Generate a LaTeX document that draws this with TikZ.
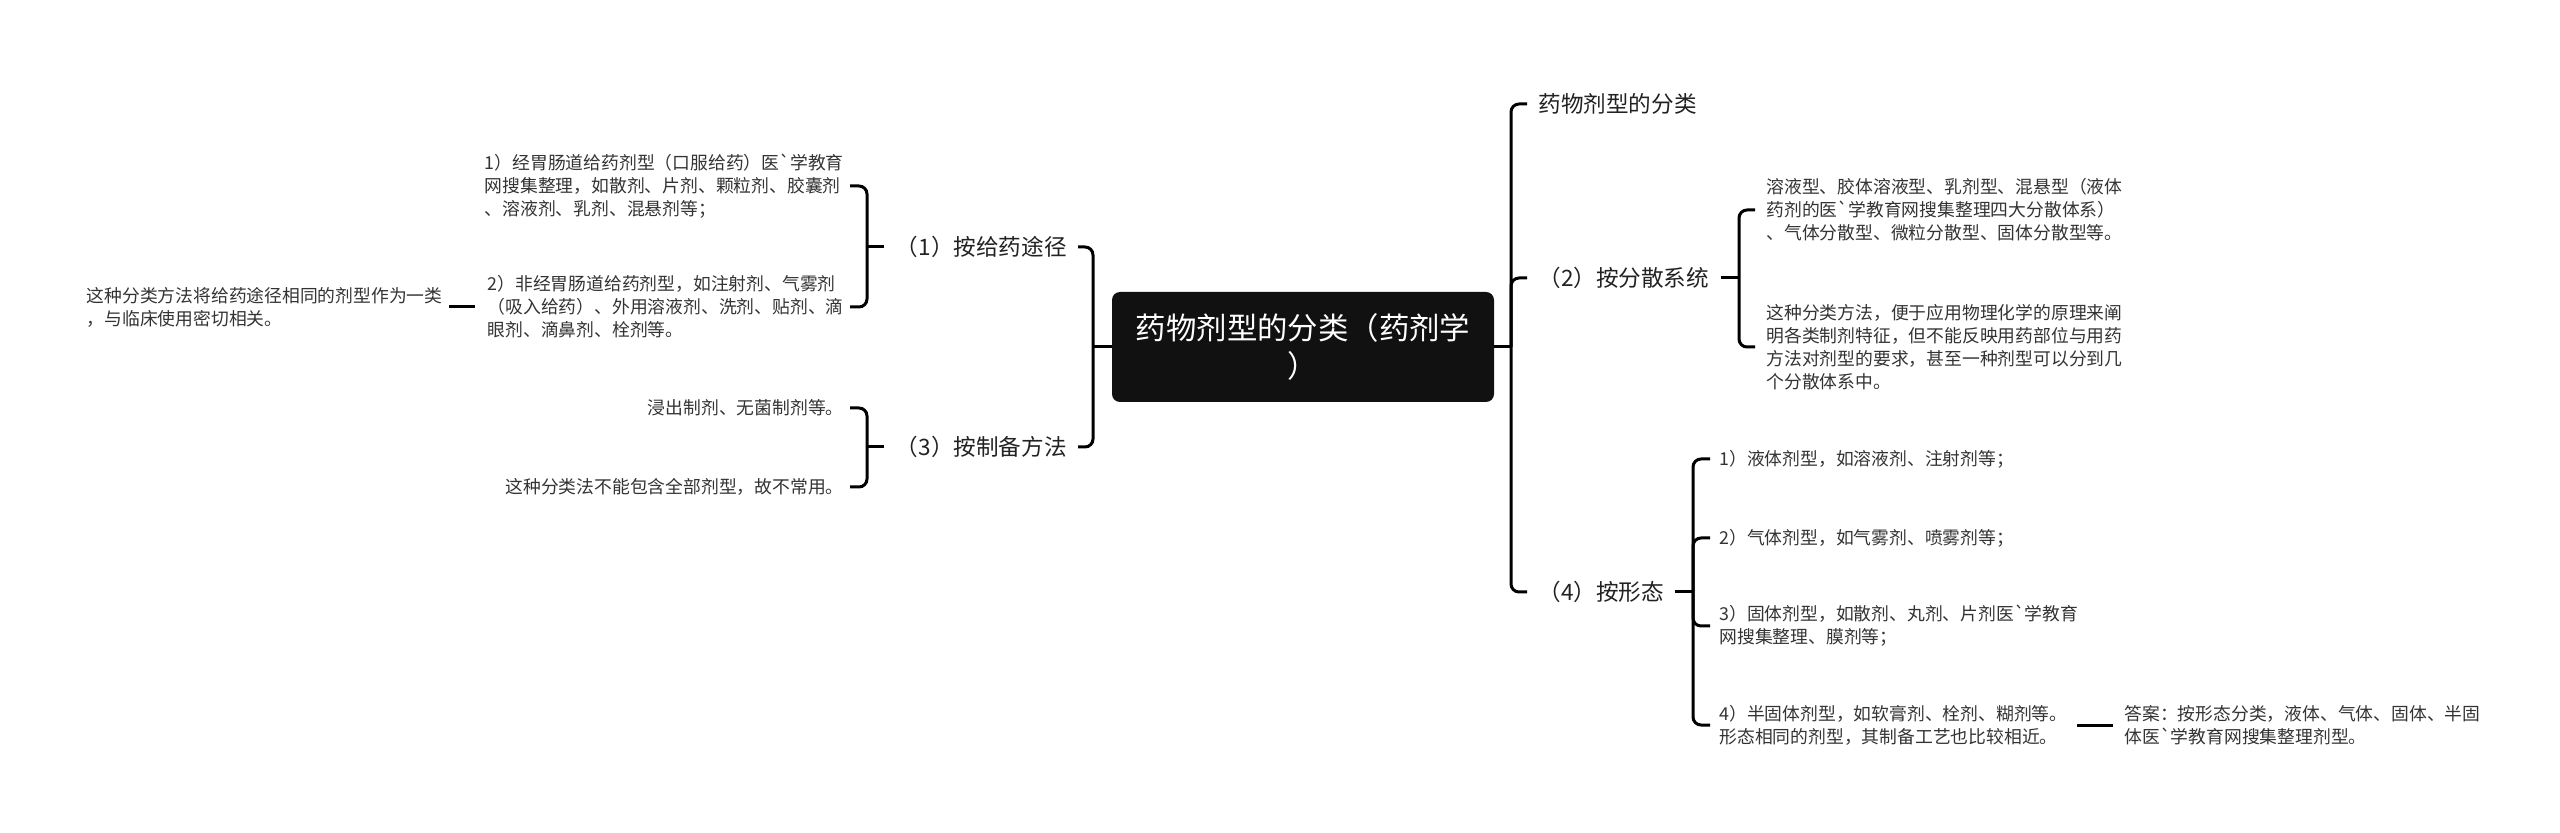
\documentclass[tikz,border=0pt]{standalone}
\usepackage{fontspec}
\newfontfamily\cjk[Ligatures=TeXOff]{Noto Sans CJK SC}
\definecolor{rootfill}{HTML}{111111}
\definecolor{lvltext}{HTML}{222222}
\definecolor{leaftext}{HTML}{333333}
\begin{document}
\begin{tikzpicture}[x=0.5pt,y=-0.5pt,
  link/.style={line width=1.5pt, draw=black, rounded corners=4pt},
  root/.style={fill=rootfill, text=white, rounded corners=4pt, minimum width=191pt, minimum height=55pt, align=center, font=\cjk\fontsize{15.2}{19}\selectfont, inner sep=0pt},
  lvl/.style={font=\cjk\fontsize{11.3}{14}\selectfont, text=lvltext, inner xsep=5.5pt, inner ysep=3pt},
  leaf/.style={font=\cjk\fontsize{8.9}{11.5}\selectfont, text=leaftext, align=left, inner xsep=5.5pt, inner ysep=2pt},
  leafl/.style={leaf, inner xsep=3pt}]
\useasboundingbox (0,0) rectangle (2560,833);

\node[root] (root) at (1303,347) {药物剂型的分类（药剂学\\）};

% left side
\coordinate (jL) at (1093,347);
\node[lvl, anchor=east] (n1) at (1078,247) {（1）按给药途径};
\node[lvl, anchor=east] (n3) at (1078,447) {（3）按制备方法};
\draw[link] (root.west) -- (jL);
\draw[link] (jL) |- (n1.east);
\draw[link] (jL) |- (n3.east);

\coordinate (j1) at (867,247);
\draw[link] (n1.west) -- (j1);
\node[leafl, anchor=east] (a1) at (850,186) {1）经胃肠道给药剂型（口服给药）医`学教育\\网搜集整理，如散剂、片剂、颗粒剂、胶囊剂\\、溶液剂、乳剂、混悬剂等；};
\node[leafl, anchor=east] (a2) at (850,307) {2）非经胃肠道给药剂型，如注射剂、气雾剂\\（吸入给药）、外用溶液剂、洗剂、贴剂、滴\\眼剂、滴鼻剂、栓剂等。};
\draw[link] (j1) |- (a1.east);
\draw[link] (j1) |- (a2.east);
\node[leafl, anchor=east] (a21) at (449,307) {这种分类方法将给药途径相同的剂型作为一类\\，与临床使用密切相关。};
\draw[link] (a21.east) -- ([xshift=-3pt]a2.west);

\coordinate (j3) at (867,447);
\draw[link] (n3.west) -- (j3);
\node[leafl, anchor=east] (b1) at (850,408) {浸出制剂、无菌制剂等。};
\node[leafl, anchor=east] (b2) at (850,487) {这种分类法不能包含全部剂型，故不常用。};
\draw[link] (j3) |- (b1.east);
\draw[link] (j3) |- (b2.east);

% right side
\coordinate (jR) at (1511,347);
\draw[link] (root.east) -- (jR);
\node[lvl, anchor=west] (n0) at (1527,104) {药物剂型的分类};
\node[lvl, anchor=west] (n2) at (1527,278) {（2）按分散系统};
\node[lvl, anchor=west] (n4) at (1527,592) {（4）按形态};
\draw[link] (jR) |- (n0.west);
\draw[link] (jR) |- (n2.west);
\draw[link] (jR) |- (n4.west);

\coordinate (j2) at (1739,278);
\draw[link] (n2.east) -- (j2);
\node[leaf, anchor=west] (c1) at (1755,210) {溶液型、胶体溶液型、乳剂型、混悬型（液体\\药剂的医`学教育网搜集整理四大分散体系）\\、气体分散型、微粒分散型、固体分散型等。};
\node[leaf, anchor=west] (c2) at (1755,347) {这种分类方法，便于应用物理化学的原理来阐\\明各类制剂特征，但不能反映用药部位与用药\\方法对剂型的要求，甚至一种剂型可以分到几\\个分散体系中。};
\draw[link] (j2) |- (c1.west);
\draw[link] (j2) |- (c2.west);

\coordinate (j4) at (1693,592);
\draw[link] (n4.east) -- (j4);
\node[leaf, anchor=west, inner xsep=4.5pt] (d1) at (1710,459) {1）液体剂型，如溶液剂、注射剂等；};
\node[leaf, anchor=west, inner xsep=4.5pt] (d2) at (1710,538) {2）气体剂型，如气雾剂、喷雾剂等；};
\node[leaf, anchor=west, inner xsep=4.5pt] (d3) at (1710,626) {3）固体剂型，如散剂、丸剂、片剂医`学教育\\网搜集整理、膜剂等；};
\node[leaf, anchor=west, inner xsep=4.5pt] (d4) at (1710,725) {4）半固体剂型，如软膏剂、栓剂、糊剂等。\\形态相同的剂型，其制备工艺也比较相近。};
\draw[link] (j4) |- (d1.west);
\draw[link] (j4) |- (d2.west);
\draw[link] (j4) |- (d3.west);
\draw[link] (j4) |- (d4.west);

\node[leaf, anchor=west] (ans) at (2113,725) {答案：按形态分类，液体、气体、固体、半固\\体医`学教育网搜集整理剂型。};
\draw[link] (d4.east) -- (ans.west);
\end{tikzpicture}
\end{document}
